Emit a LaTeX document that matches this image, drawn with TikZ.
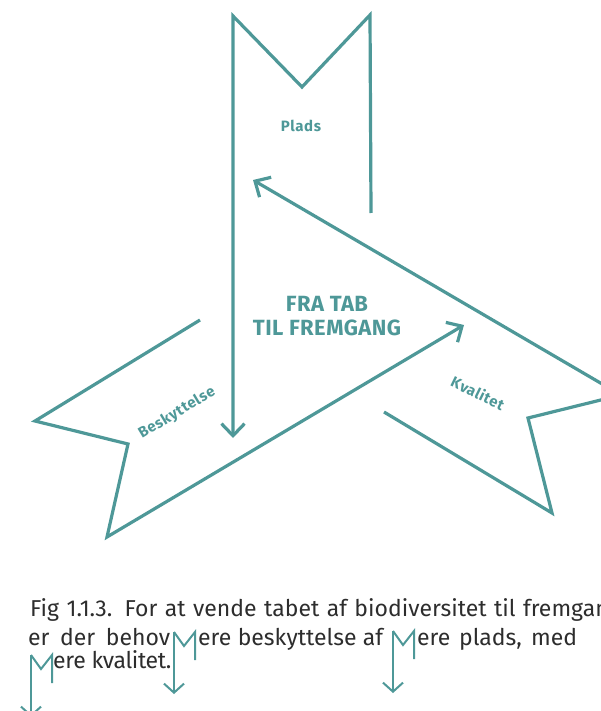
\documentclass[tikz,border=0pt]{standalone}
\usepackage{fontspec}
\setmainfont{Fira Sans}
\usetikzlibrary{arrows.meta}
\usetikzlibrary{positioning}
\definecolor{bandteal}{RGB}{78,152,152}
\definecolor{captiongray}{RGB}{45,45,45}
\tikzset{
    band/.style={
        draw=bandteal,
        line width=3.2pt,
        line join=miter},
    pointer/.style={
        band,
        -{Straight Barb[length=12pt,width=23pt]}},
    bandtext/.style={
        text=bandteal,
        inner sep=0pt,
        font=\bfseries\fontsize{15}{17}\selectfont\addfontfeatures{LetterSpace=4}},
    caption/.style={
        text=captiongray,
        anchor=base west,
        inner sep=0pt,
        font=\fontsize{23}{26}\selectfont},
    flmark/.pic={
        \draw[draw=bandteal,line width=2pt] (0,0) -- (10,14) -- (21,0) -- (21,28);
        \draw[draw=bandteal,line width=2pt,-{Straight Barb[length=9pt,width=20pt]}] (0,0) -- (0,62);
    }}
\newcommand\justline[2]{\makebox[#1pt][s]{#2}}

\begin{document}
\begin{tikzpicture}[x=1pt,y=-1pt]
        \useasboundingbox (0,0) rectangle (601,711);
        \clip (0,0) rectangle (601,711);

        % the three ribbons
        \draw[pointer] (371,213) -- (370,15) -- (302,87) -- (233,16) -- (233,438);
        \draw[pointer] (384,412) -- (552,513) -- (528,418) -- (621,395) -- (253,180);
        \draw[pointer] (200,320) -- (35,421) -- (128,444) -- (107,537) -- (464,325);

        \node[bandtext] (plads) at (301,126) {Plads};
        \node[bandtext,rotate=31] (beskyt) at (177,413) {Beskyttelse};
        \node[bandtext,rotate=-26] (kval) at (478,393) {Kvalitet};
        \node[bandtext,align=center,font=\bfseries\fontsize{22}{23.5}\selectfont\addfontfeatures{LetterSpace=2}] (title) at (327,316) {FRA TAB\\TIL FREMGANG};

        % caption
        \node[caption] (line1) at (30,616) {\justline{596}{Fig 1.1.3. For at vende tabet af biodiversitet til fremgang,}};
        \node[caption] (need) at (28,645) {\justline{142}{er der behov}};
        \pic at (174,632) {flmark};
        \node[caption] (protect) at (198,645) {\justline{185}{ere beskyttelse af}};
        \pic at (393,631) {flmark};
        \node[caption] (space) at (417,645) {\justline{160}{ere plads, med}};
        \pic at (31,655) {flmark};
        \node[caption,font=\fontsize{23}{26}\selectfont\addfontfeatures{LetterSpace=-1.5}] (quality) at (53,668) {ere kvalitet.};
    \end{tikzpicture}
\end{document}
